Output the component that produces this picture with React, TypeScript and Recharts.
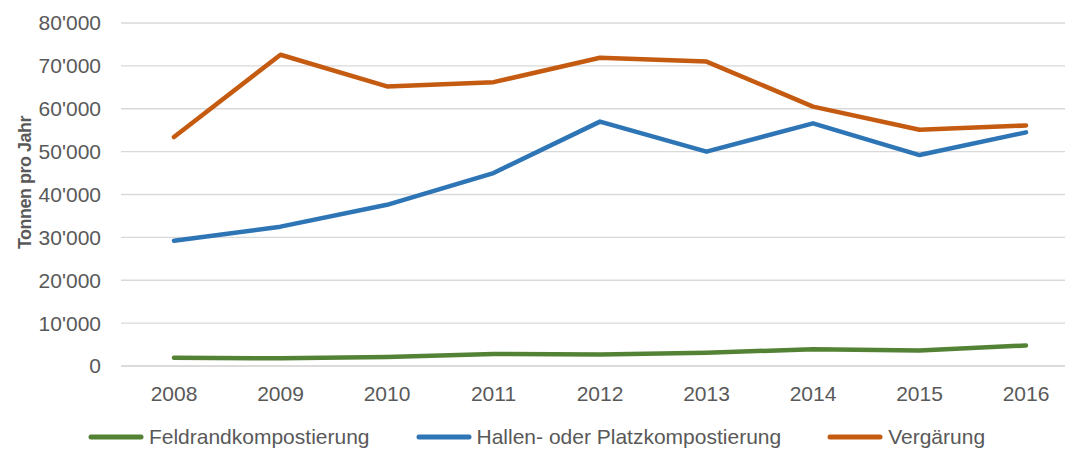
import { LineChart, Line, XAxis, YAxis, CartesianGrid, Legend, Label } from 'recharts'

const years = ['2008', '2009', '2010', '2011', '2012', '2013', '2014', '2015', '2016']
const feldrand = [1900, 1800, 2100, 2800, 2700, 3100, 3900, 3600, 4800]
const hallen = [29200, 32500, 37600, 45000, 57000, 50000, 56600, 49200, 54500]
const vergaerung = [53400, 72600, 65200, 66200, 71900, 71000, 60500, 55100, 56100]
const yTicks = [0, 10000, 20000, 30000, 40000, 50000, 60000, 70000, 80000]

const series = [
  { key: 'feldrand', name: 'Feldrandkompostierung', color: '#548235' },
  { key: 'hallen', name: 'Hallen- oder Platzkompostierung', color: '#2E75B6' },
  { key: 'vergaerung', name: 'Vergärung', color: '#C55A11' },
]

const data = years.map((year, i) => ({
  year,
  feldrand: feldrand[i],
  hallen: hallen[i],
  vergaerung: vergaerung[i],
}))

const fmt = (v: number) => (v === 0 ? '0' : `${Math.floor(v / 1000)}'${String(v % 1000).padStart(3, '0')}`)

const font = '"Liberation Sans", Arial, sans-serif'
const gray = '#595959'

function LegendContent() {
  return (
    <div style={{ width: 1065, height: 30, display: 'flex', justifyContent: 'center', alignItems: 'center', gap: 46, fontFamily: font, fontSize: 21, color: gray, paddingLeft: 8, boxSizing: 'border-box' }}>
      {series.map(s => (
        <div key={s.key} style={{ display: 'flex', alignItems: 'center' }}>
          <svg width={56} height={8}>
            <line x1={3} y1={4} x2={53} y2={4} stroke={s.color} strokeWidth={5} strokeLinecap="round" />
          </svg>
          <span style={{ marginLeft: 5 }}>{s.name}</span>
        </div>
      ))}
    </div>
  )
}

export default function App() {
  return (
    <div style={{ position: 'absolute', left: 0, top: 0, width: 1065, height: 450, overflow: 'hidden', background: '#fff' }}>
      <LineChart width={1090} height={460} data={data} margin={{ top: 23, right: 11, bottom: 8, left: 0 }}>
        <CartesianGrid vertical={false} stroke="#d9d9d9" strokeWidth={1.3} />
        <XAxis
          dataKey="year"
          padding={{ left: 53, right: 53 }}
          axisLine={{ stroke: '#d9d9d9', strokeWidth: 1.3 }}
          tickLine={false}
          tickSize={0}
          tickMargin={20}
          height={56}
          tick={{ fill: gray, fontSize: 21, fontFamily: font }}
        />
        <YAxis
          domain={[0, 80000]}
          ticks={yTicks}
          tickFormatter={fmt}
          axisLine={false}
          tickLine={false}
          tickSize={0}
          tickMargin={20}
          width={121}
          tick={{ fill: gray, fontSize: 21, fontFamily: font }}
        >
          <Label
            value="Tonnen pro Jahr"
            angle={-90}
            position="insideLeft"
            offset={25}
            dy={-12}
            fill={gray}
            fontSize={18}
            fontWeight="bold"
            fontFamily={font}
            letterSpacing={-0.5}
            textAnchor="middle"
          />
        </YAxis>
        <Legend verticalAlign="bottom" wrapperStyle={{ left: 0 }} content={<LegendContent />} />
        {series.map(s => (
          <Line
            key={s.key}
            type="linear"
            dataKey={s.key}
            name={s.name}
            stroke={s.color}
            strokeWidth={4.5}
            strokeLinecap="round"
            strokeLinejoin="round"
            dot={false}
            activeDot={false}
            isAnimationActive={false}
          />
        ))}
      </LineChart>
    </div>
  )
}
